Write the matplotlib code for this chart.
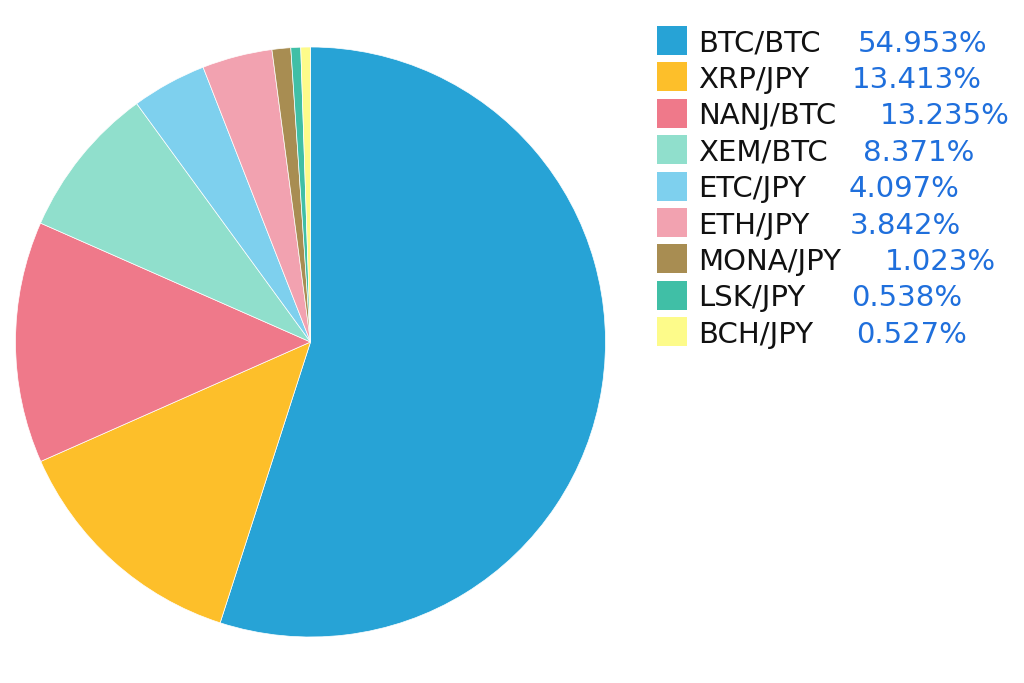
import matplotlib
matplotlib.use("Agg")
import matplotlib.pyplot as plt
from matplotlib.patches import Rectangle

labels = ["BTC/BTC", "XRP/JPY", "NANJ/BTC", "XEM/BTC", "ETC/JPY", "ETH/JPY", "MONA/JPY", "LSK/JPY", "BCH/JPY"]
values = [54.953, 13.413, 13.235, 8.371, 4.097, 3.842, 1.023, 0.538, 0.527]
colors = ["#27A3D6", "#FDBF2A", "#EF798A", "#90DFCC", "#7ED0EE", "#F2A2B0", "#A88D52", "#40BFA6", "#FDFB8A"]
pct_x_px = [858, 852, 880, 863, 849, 850, 885, 851, 856]

W, H = 1024, 683
fig = plt.figure(figsize=(W / 100, H / 100), dpi=100)
fig.patch.set_facecolor("white")

cx, cy, r = 310.5, 342, 295
ax = fig.add_axes([(cx - r) / W, (H - cy - r) / H, 2 * r / W, 2 * r / H])
ax.pie(values, colors=colors, startangle=90, counterclock=False, radius=1,
       wedgeprops=dict(edgecolor="white", linewidth=0.5))
ax.set_xlim(-1, 1)
ax.set_ylim(-1, 1)
ax.set_aspect("equal")
ax.axis("off")

y0, dy = 40.5, 36.4
sq = 29
for i, (lab, val, col) in enumerate(zip(labels, values, colors)):
    yc = y0 + i * dy
    fig.patches.append(Rectangle((657 / W, (H - yc - sq / 2) / H), 30 / W, sq / H,
                                 transform=fig.transFigure, facecolor=col, edgecolor="none"))
    fig.text(698 / W, (H - yc) / H, lab, fontsize=21, color="#111111",
             va="center_baseline", ha="left", family="DejaVu Sans")
    fig.text(pct_x_px[i] / W, (H - yc) / H, f"{val:.3f}%", fontsize=21, color="#1F6FDC",
             va="center_baseline", ha="left", family="DejaVu Sans")

fig.savefig("out.png", dpi=100, facecolor="white")
